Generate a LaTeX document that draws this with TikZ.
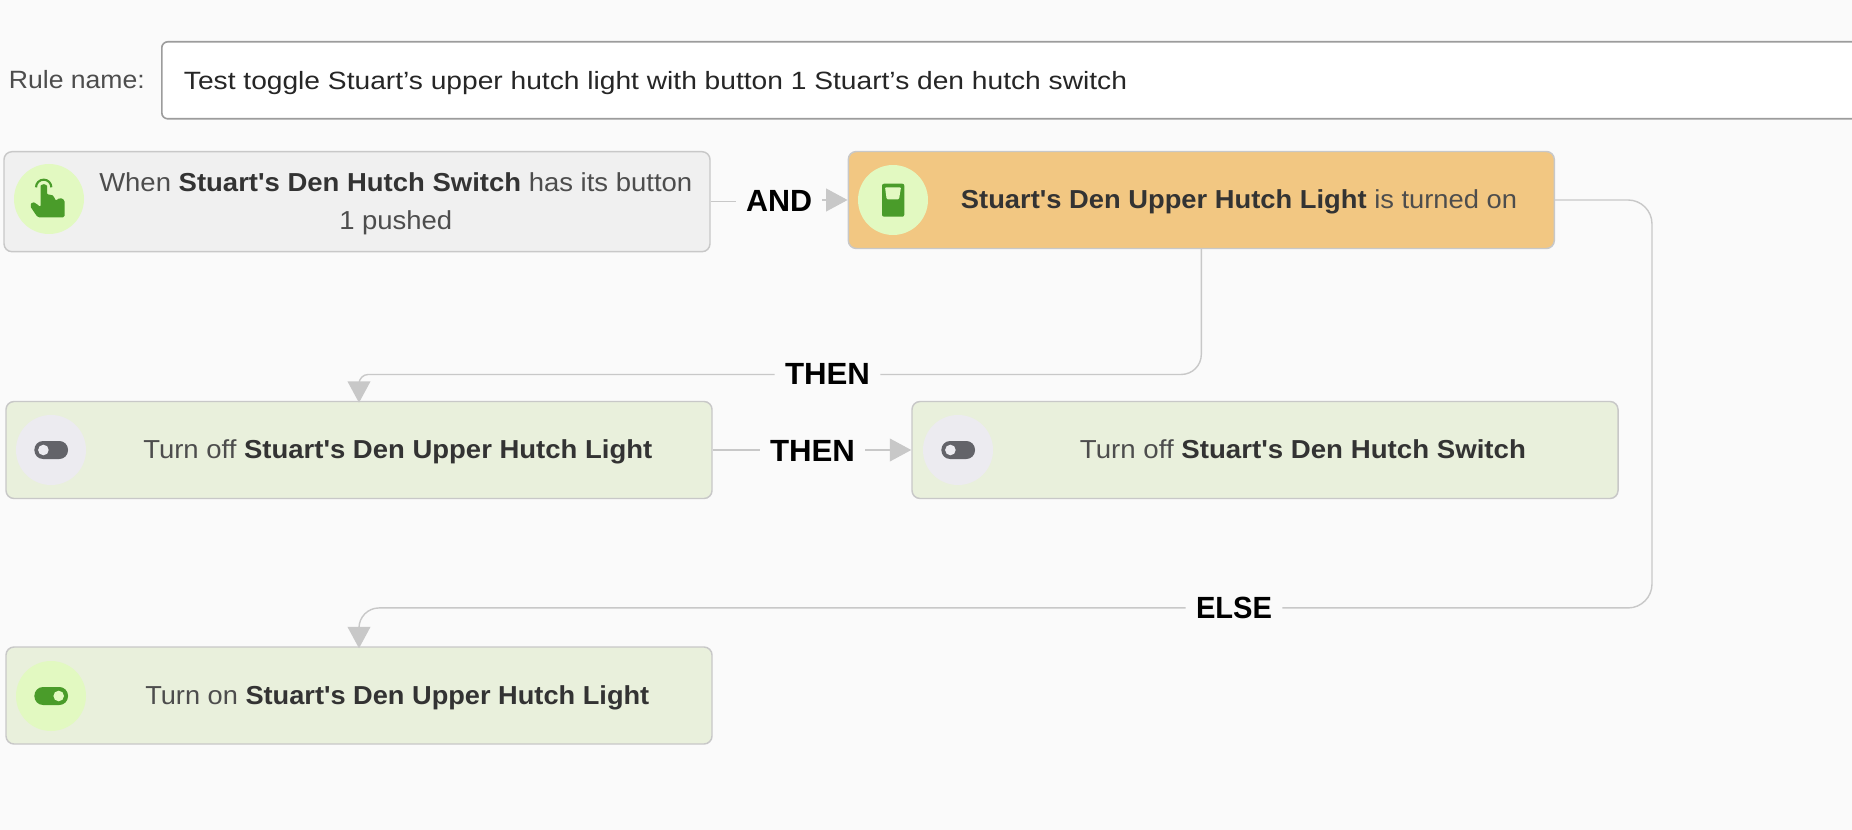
\documentclass[tikz,border=0pt]{standalone}
\usepackage{graphicx}
\usepackage{fontspec}
\setmainfont{Liberation Sans}
\usetikzlibrary{arrows.meta}
\newdimen\pxu \pxu=0.75pt
\newcommand{\fitw}[2]{\resizebox{#1\pxu}{\height}{#2}}
\newcommand{\sq}{\textquotesingle}
\definecolor{pagebg}{HTML}{FAFAFA}
\definecolor{edgegray}{HTML}{C8C8C8}
\definecolor{inputedge}{HTML}{9C9C9C}
\definecolor{greybox}{HTML}{F0F0F0}
\definecolor{orangebox}{HTML}{F2C782}
\definecolor{greenbox}{HTML}{E9F0DC}
\definecolor{lime}{HTML}{E2F9C1}
\definecolor{leaf}{HTML}{4A9C2A}
\definecolor{offcirc}{HTML}{ECEBF0}
\definecolor{offtog}{HTML}{636369}
\definecolor{plain}{HTML}{4D4D4D}
\definecolor{strong}{HTML}{333333}
\tikzset{
  card/.style={draw=edgegray,line width=1.1pt,rounded corners=6pt,minimum width=706\pxu,minimum height=97\pxu,inner sep=0pt},
  badge/.style={circle,minimum size=70\pxu,inner sep=0pt},
  body/.style={font=\fontsize{19.5pt}{23pt}\selectfont,text=plain,anchor=base west,inner sep=0pt},
  joinlabel/.style={font=\fontsize{23pt}{26pt}\selectfont\bfseries,text=black,anchor=base,inner xsep=10\pxu,inner ysep=0pt},
  link/.style={draw=edgegray,line width=1.05pt},
  tiplink/.style={link,-{Triangle[length=16pt,width=17pt,fill=edgegray]}},
}
\newcommand{\bld}[1]{\textcolor{strong}{\bfseries #1}}
\begin{document}
\begin{tikzpicture}[x=0.75pt,y=-0.75pt]
\useasboundingbox (0,0) rectangle (1852,830);
\clip (0,0) rectangle (1852,830);
\fill[pagebg] (0,0) rectangle (1852,830);

% rule name
\node[body] (rulelabel) at (8.6,89) {\fontsize{18.75pt}{22pt}\selectfont\fitw{136}{Rule name:}};
\node[draw=inputedge,line width=1.2pt,fill=white,rounded corners=4.5pt,anchor=north west,minimum width=1800\pxu,minimum height=77\pxu,inner sep=0pt] (input) at (161,41) {};
\node[body,text=black!85] (inputtext) at (183.7,89.3) {\fontsize{18.75pt}{22pt}\selectfont\fitw{943}{Test toggle Stuart’s upper hutch light with button 1 Stuart’s den hutch switch}};

% cards
\node[card,fill=greybox,minimum height=100\pxu] (trigger) at (357,201.7) {};
\node[card,fill=orangebox] (cond) at (1201.3,200) {};
\node[card,fill=greenbox] (offlight) at (359,450) {};
\node[card,fill=greenbox] (offswitch) at (1265,450) {};
\node[card,fill=greenbox] (onlight) at (359,695.5) {};

% badges
\node[badge,fill=lime] (b1) at (49,199) {};
\node[badge,fill=lime] (b2) at (893,200) {};
\node[badge,fill=offcirc] (b3) at (51,450) {};
\node[badge,fill=offcirc] (b4) at (958,450) {};
\node[badge,fill=lime] (b5) at (51,696) {};

% hand icon
\begin{scope}[shift={(0,150)},x=0.25pt,y=-0.25pt]
  \fill[leaf,rounded corners=1.2pt] (122,112) arc[start angle=180,end angle=360,radius=9.5] -- (141,135) -- (153,133) -- (163,140) -- (166,153) -- (180,143) -- (194,150) -- (194,202) -- (113,202) -- (90,168) -- (97,155) -- (108,160) -- (122,172) -- cycle;
  \draw[leaf,line width=1.6pt] (108,112) arc[start angle=180,end angle=360,radius=23];
\end{scope}

% switch icon
\fill[leaf,rounded corners=1.5pt] (882,183.7) rectangle (904.3,216.7);
\fill[lime,rounded corners=0.8pt] (885,187.3) -- (901,187.3) -- (899,199.3) -- (886.7,199.3) -- cycle;

% toggle icons
\fill[offtog,rounded corners=6.5pt] (34.4,441) rectangle (68,459);
\fill[offcirc] (43.4,450) circle[radius=5.3];
\fill[offtog,rounded corners=6.5pt] (941.4,441) rectangle (975,459);
\fill[offcirc] (950.4,450) circle[radius=5.3];
\fill[leaf,rounded corners=6.5pt] (34.4,687) rectangle (68,705);
\fill[lime] (58.7,696) circle[radius=5.3];

% card texts
\node[body] (t1a) at (99,191.5) {\fitw{593}{When \bld{Stuart\sq s Den Hutch Switch} has its button}};
\node[body] (t1b) at (339,229.3) {\fitw{113}{1 pushed}};
\node[body] (t2) at (960.7,208.7) {\fitw{556}{\bld{Stuart\sq s Den Upper Hutch Light} is turned on}};
\node[body] (t3) at (143,458.7) {\fitw{509}{Turn off \bld{Stuart\sq s Den Upper Hutch Light}}};
\node[body] (t4) at (1079.7,458.7) {\fitw{446}{Turn off \bld{Stuart\sq s Den Hutch Switch}}};
\node[body] (t5) at (145,704.3) {\fitw{504}{Turn on \bld{Stuart\sq s Den Upper Hutch Light}}};

% labels
\node[joinlabel] (andl) at (779,212) {\fitw{66}{AND}};
\node[joinlabel] (then1) at (827.5,385) {\fitw{85}{THEN}};
\node[joinlabel] (then2) at (812.5,461) {\fitw{85}{THEN}};
\node[joinlabel] (elsel) at (1234,618.5) {\fitw{76}{ELSE}};

\coordinate (elsecorner) at (1652,0 |- elsel.east);

% connectors
\draw[link] (trigger.east) -- (andl.west |- trigger.east);
\draw[tiplink] (andl.east |- cond.west) -- (cond.west);
\draw[link,rounded corners=15pt] (cond.south) |- (then1.east);
\draw[tiplink,rounded corners=7pt,shorten >=-1.5pt] (then1.west) -| (offlight.north);
\draw[link] (offlight.east) -- (then2.west |- offlight.east);
\draw[tiplink] (then2.east |- offswitch.west) -- (offswitch.west);
\draw[link,rounded corners=18pt] (cond.east) -| (elsecorner) -- (elsel.east);
\draw[tiplink,rounded corners=15pt,shorten >=-1.5pt] (elsel.west) -| (onlight.north);
\end{tikzpicture}
\end{document}
